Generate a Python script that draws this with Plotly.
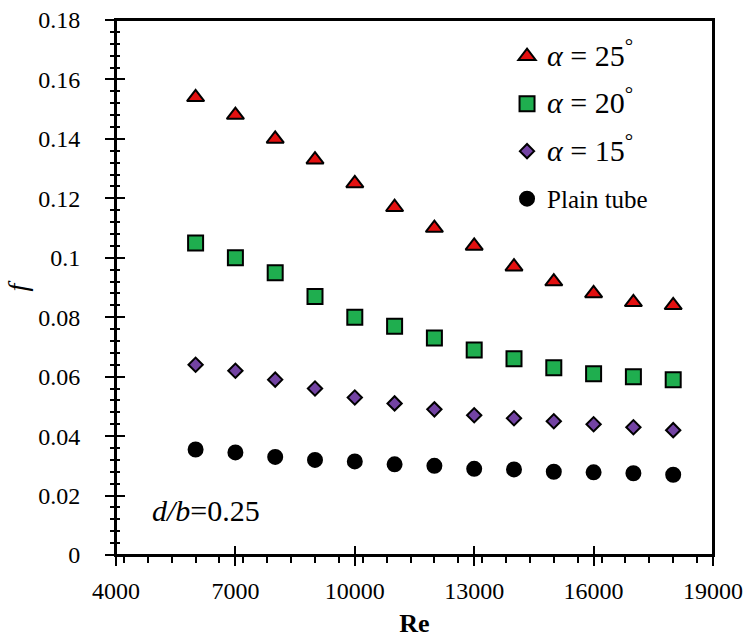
import plotly.graph_objects as go

re_vals = [6000, 7000, 8000, 9000, 10000, 11000, 12000, 13000, 14000, 15000, 16000, 17000, 18000]
f_25 = [0.154, 0.148, 0.140, 0.133, 0.125, 0.117, 0.110, 0.104, 0.097, 0.092, 0.088, 0.085, 0.084]
f_20 = [0.105, 0.100, 0.095, 0.087, 0.080, 0.077, 0.073, 0.069, 0.066, 0.063, 0.061, 0.060, 0.059]
f_15 = [0.064, 0.062, 0.059, 0.056, 0.053, 0.051, 0.049, 0.047, 0.046, 0.045, 0.044, 0.043, 0.042]
f_plain = [0.0355, 0.0345, 0.033, 0.032, 0.0315, 0.0305, 0.030, 0.029, 0.0288, 0.028, 0.0278, 0.0275, 0.027]

x_ticks = [4000, 7000, 10000, 13000, 16000, 19000]
x_tick_text = ["4000", "7000", "10000", "13000", "16000", "19000"]
y_ticks = [0, 0.02, 0.04, 0.06, 0.08, 0.1, 0.12, 0.14, 0.16, 0.18]
y_tick_text = ["0", "0.02", "0.04", "0.06", "0.08", "0.1", "0.12", "0.14", "0.16", "0.18"]

FONT = "Liberation Serif"

series = [
    ("<span style='font-size:30px'><i>α</i> = 25<sup>°</sup></span>", f_25, "triangle-up", "#e31010", 15),
    ("<span style='font-size:30px'><i>α</i> = 20<sup>°</sup></span>", f_20, "square", "#1fae4f", 15),
    ("<span style='font-size:30px'><i>α</i> = 15<sup>°</sup></span>", f_15, "diamond", "#7343a3", 11),
    ("Plain tube", f_plain, "circle", "#000000", 14),
]

fig = go.Figure()
for i, (name, vals, sym, col, sz) in enumerate(series):
    fig.add_trace(go.Scatter(
        x=re_vals, y=vals, mode="markers", name=name, legendgroup=str(i),
        marker=dict(symbol=sym, color=col, size=sz, line=dict(color="#000000", width=2)),
    ))

# invisible trace on overlay axes to draw the inner half of crossing ticks
fig.add_trace(go.Scatter(x=[re_vals[0]], y=[f_25[0]], xaxis="x2", yaxis="y2",
                         mode="markers", marker=dict(opacity=0), showlegend=False, hoverinfo="skip"))

axis_common = dict(showgrid=False, zeroline=False, linecolor="#000000", linewidth=2,
                   automargin=False, ticklabeloverflow="allow")

fig.update_layout(
    width=752, height=641,
    margin=dict(l=116, r=39, t=20, b=86),
    paper_bgcolor="white", plot_bgcolor="white",
    font=dict(family=FONT, color="#000000", size=24),
    xaxis=dict(
        **axis_common, range=[4000, 19000], tickvals=x_ticks, ticktext=x_tick_text,
        ticks="outside", ticklen=9, tickwidth=2, tickcolor="#000000",
        minor=dict(dtick=600, ticks="outside", ticklen=6, tickwidth=2, tickcolor="#000000"),
        mirror=True, ticklabelstandoff=4,
        tickfont=dict(family=FONT, size=24, color="#000000"),
        title=dict(text="<b>Re</b>", font=dict(family=FONT, size=26, color="#000000"), standoff=11),
    ),
    yaxis=dict(
        **axis_common, range=[0, 0.18], tickvals=y_ticks, ticktext=y_tick_text,
        ticks="outside", ticklen=9, tickwidth=2, tickcolor="#000000",
        minor=dict(dtick=0.004, ticks="outside", ticklen=4, tickwidth=2, tickcolor="#000000"),
        mirror=True, ticklabelstandoff=20,
        tickfont=dict(family=FONT, size=24, color="#000000"),
        title=dict(text="<i>f</i>", font=dict(family=FONT, size=28, color="#000000"), standoff=2),
    ),
    xaxis2=dict(
        overlaying="x", range=[4000, 19000], tickvals=x_ticks, showgrid=False, zeroline=False,
        showline=False, showticklabels=False, ticks="inside", ticklen=9, tickwidth=2,
        tickcolor="#000000", anchor="y2", side="bottom", automargin=False,
    ),
    yaxis2=dict(
        overlaying="y", range=[0, 0.18], tickvals=y_ticks, showgrid=False, zeroline=False,
        showline=False, showticklabels=False, ticks="inside", ticklen=9, tickwidth=2,
        tickcolor="#000000", anchor="x2", side="left", automargin=False,
        minor=dict(dtick=0.004, ticks="inside", ticklen=4, tickwidth=2, tickcolor="#000000"),
    ),
    legend=dict(
        x=0.655, y=0.975, xanchor="left", yanchor="top",
        bgcolor="rgba(0,0,0,0)", borderwidth=0,
        font=dict(family=FONT, size=25, color="#000000"),
        tracegroupgap=12, itemsizing="trace",
    ),
    showlegend=True,
)

# plot frame (top and right borders)
fig.add_shape(type="rect", xref="paper", yref="paper", x0=0, x1=1, y0=0, y1=1,
              line=dict(color="#000000", width=2), fillcolor="rgba(0,0,0,0)", layer="above")

fig.add_annotation(
    x=0.057, y=0.084, xref="paper", yref="paper", xanchor="left", yanchor="middle",
    text="<i>d/b</i>=0.25", showarrow=False, font=dict(family=FONT, size=30, color="#000000"),
)

fig.write_html(
    "out.html",
    config={"displayModeBar": False},
    post_script="document.body.style.margin='0';document.body.style.overflow='hidden';",
)
